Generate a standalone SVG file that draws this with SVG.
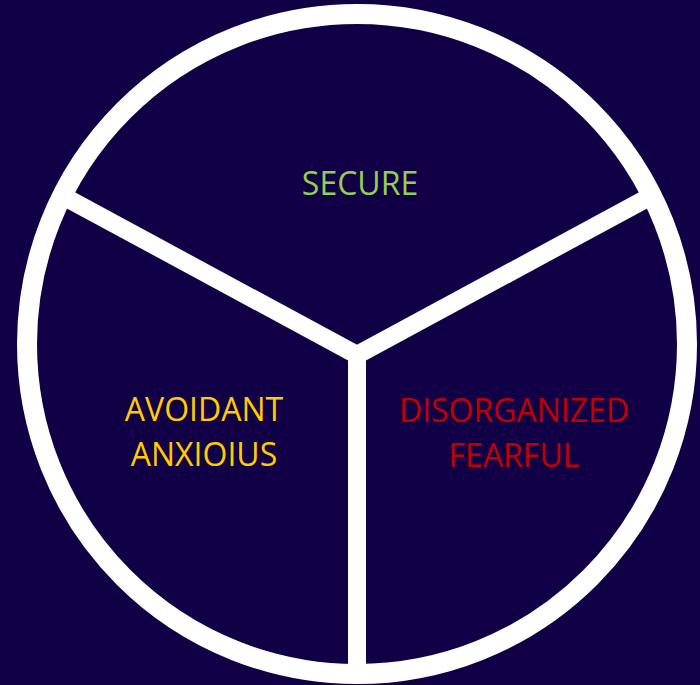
<svg xmlns="http://www.w3.org/2000/svg" width="700" height="685" viewBox="0 0 700 685">
  <style>
    .lbl { font-family: "Open Sans", "Liberation Sans", sans-serif; font-size: 32px; text-anchor: middle; }
    .ring { fill: none; stroke: #ffffff; stroke-width: 20; }
    .div { stroke: #ffffff; stroke-linecap: butt; fill: none; stroke-width: 18; }
  </style>
  <rect x="0" y="0" width="700" height="685" fill="#120046"/>
  <g id="dividers">
    <line class="div" x1="357" y1="355" x2="60" y2="194.5"/>
    <line class="div" x1="357" y1="355" x2="654" y2="194.5"/>
    <line class="div" x1="357" y1="348" x2="357" y2="672"/>
  </g>
  <circle class="ring" cx="357" cy="344" r="330"/>
  <g id="secure">
    <text class="lbl" x="360" y="195" fill="#92D050">SECURE</text>
  </g>
  <g id="avoidant">
    <text class="lbl" x="204" y="421" fill="#FFCC00">AVOIDANT</text>
    <text class="lbl" x="204" y="466" fill="#FFCC00">ANXIOIUS</text>
  </g>
  <g id="disorganized">
    <text class="lbl" x="514" y="422" fill="#C00000">DISORGANIZED</text>
    <text class="lbl" x="514" y="467" fill="#C00000">FEARFUL</text>
  </g>
</svg>
